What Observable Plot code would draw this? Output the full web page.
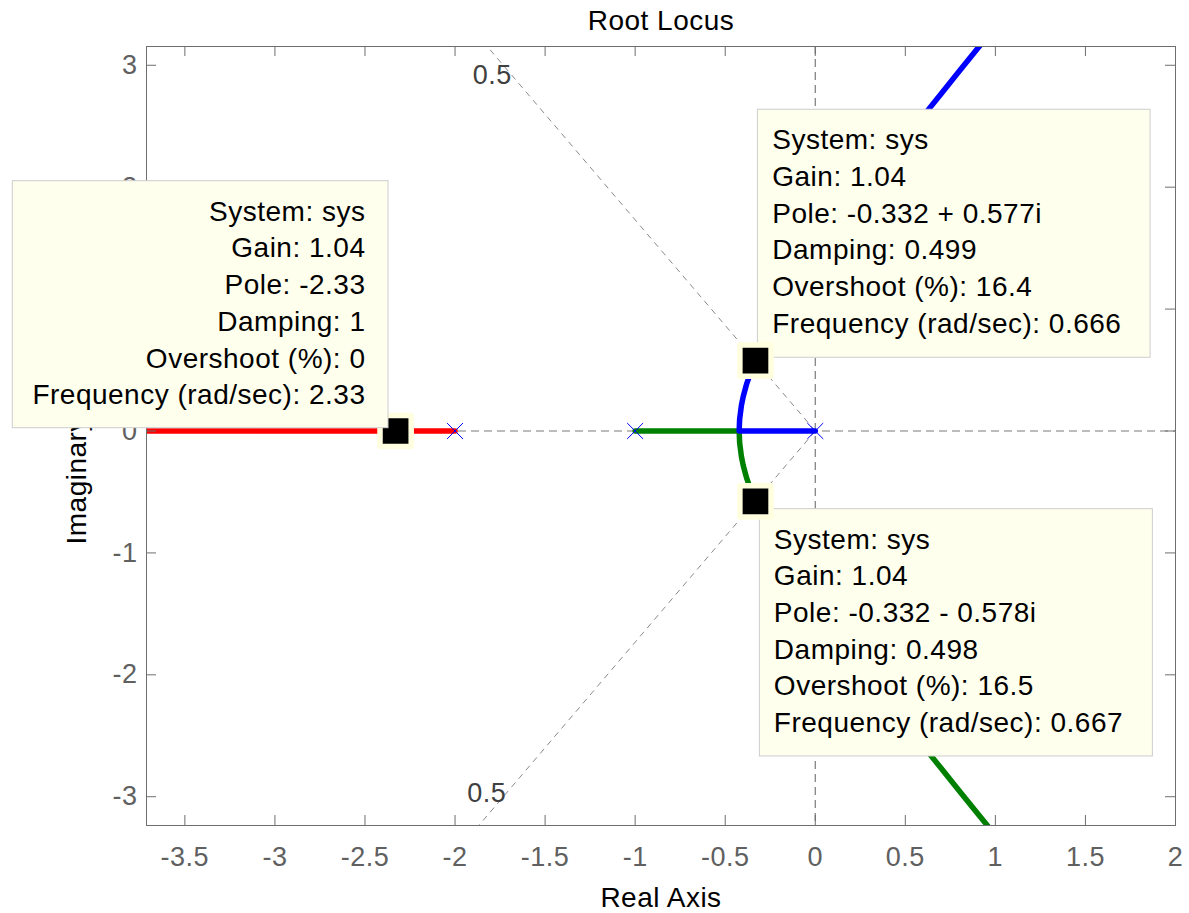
<!DOCTYPE html>
<html><head><meta charset="utf-8">
<script src="https://cdn.jsdelivr.net/npm/d3@7"></script>
<script src="https://cdn.jsdelivr.net/npm/@observablehq/plot@0.6"></script>
<style>html,body{margin:0;padding:0;background:#fff;}</style>
</head><body>
<script>
// ---- data ----
const title = "Root Locus";
const xLabel = "Real Axis";
const yLabel = "Imaginary Axis";
const xTicks = [-3.5, -3, -2.5, -2, -1.5, -1, -0.5, 0, 0.5, 1, 1.5, 2];
const yTicks = [-3, -2, -1, 0, 1, 2, 3];
const poles = [-2, -1, 0];
const dampingValues = [0.5];

const redBranch = [[-2, 0], [-4, 0]];
const greenBranch = [
  [-1, 0], [-0.4226, 0], [-0.42, -0.096], [-0.41, -0.21], [-0.40, -0.283], [-0.38, -0.391],
  [-0.35, -0.517], [-0.332, -0.58], [-0.30, -0.686], [-0.25, -0.829], [-0.20, -0.959],
  [-0.10, -1.196], [0, -1.414], [0.10, -1.622], [0.20, -1.822], [0.30, -2.017], [0.40, -2.209],
  [0.50, -2.398], [0.60, -2.585], [0.70, -2.769], [0.80, -2.953], [0.90, -3.135], [1.00, -3.317]
];
const blueBranch = [
  [0, 0], [-0.4226, 0], [-0.42, 0.096], [-0.41, 0.21], [-0.40, 0.283], [-0.38, 0.391],
  [-0.35, 0.517], [-0.332, 0.58], [-0.30, 0.686], [-0.25, 0.829], [-0.20, 0.959],
  [-0.10, 1.196], [0, 1.414], [0.10, 1.622], [0.20, 1.822], [0.30, 2.017], [0.40, 2.209],
  [0.50, 2.398], [0.60, 2.585], [0.70, 2.769], [0.80, 2.953], [0.90, 3.135], [1.00, 3.317]
];

const tipPoints = [[-2.33, 0], [-0.332, 0.577], [-0.332, -0.578]];
const tipText1 = ["System: sys", "Gain: 1.04", "Pole: -2.33", "Damping: 1", "Overshoot (%): 0", "Frequency (rad/sec): 2.33"];
const tipText2 = ["System: sys", "Gain: 1.04", "Pole: -0.332 + 0.577i", "Damping: 0.499", "Overshoot (%): 16.4", "Frequency (rad/sec): 0.666"];
const tipText3 = ["System: sys", "Gain: 1.04", "Pole: -0.332 - 0.578i", "Damping: 0.498", "Overshoot (%): 16.5", "Frequency (rad/sec): 0.667"];

// ---- layout ----
const W = 1189, H = 913, mT = 46, mR = 14, mB = 88, mL = 146;
const xDomain = [-3.713, 2], yDomain = [-3.236, 3.154];
const kx = (W - mL - mR) / (xDomain[1] - xDomain[0]);
const ky = (H - mT - mB) / (yDomain[1] - yDomain[0]);
const plotW = W - mL - mR, plotH = H - mT - mB;

const tipLayout = [
  {bx: -382.8, by: -249.8, w: 375.7, h: 247, align: "end", pad: 23},
  {bx: 2.4, by: -250.9, w: 392.7, h: 248, align: "start", pad: 14.4},
  {bx: 4.4, by: 7.7, w: 393, h: 247.3, align: "start", pad: 14}
];
const tipTexts = [tipText1, tipText2, tipText3];
const boxes = tipPoints.map(([re, im], k) => {
  const L = tipLayout[k];
  return {x1: re + L.bx / kx, x2: re + (L.bx + L.w) / kx, y1: im - L.by / ky, y2: im - (L.by + L.h) / ky};
});
const tipRows = tipPoints.map(([re, im], k) => {
  const L = tipLayout[k];
  return tipTexts[k].map((t, i) => ({
    text: t,
    x: L.align === "end" ? re + (L.bx + L.w - L.pad) / kx : re + (L.bx + L.pad) / kx,
    y: im - (L.by + 39.5 + 36.7 * i) / ky
  }));
});

const R = 6;
const dampLines = dampingValues.flatMap(z => [1, -1].map(s => ({z, s, x2: -z * R, y2: s * Math.sqrt(1 - z * z) * R})));
const dampLabels = dampingValues.flatMap(z => [1, -1].map(s => {
  const yEdge = s > 0 ? yDomain[1] : yDomain[0];
  return {z, s, x: yEdge * s * (-z / Math.sqrt(1 - z * z)), y: yEdge};
}));

const halo = "#FFFFE0", boxFill = "#FFFFEE", boxStroke = "#CDCDCD";
const axisGray = "#6e6e6e", tickText = "#606060", gridGray = "#7a7a7a";

const boxMarks = (k) => [
  Plot.rect([boxes[k]], {x1: "x1", x2: "x2", y1: "y1", y2: "y2", fill: boxFill, stroke: boxStroke, strokeWidth: 1}),
  Plot.text(tipRows[k], {x: "x", y: "y", text: "text", textAnchor: tipLayout[k].align, lineAnchor: "bottom", fontSize: 28, fill: "#000"})
];
const tipMarker = (k) => Plot.dot([tipPoints[k]], {x: d => d[0], y: d => d[1], symbol: "square", r: 17.6, fill: "#000", stroke: halo, strokeWidth: 5.5, strokeLinejoin: "round"});

const chart = Plot.plot({
  width: W, height: H, marginTop: mT, marginRight: mR, marginBottom: mB, marginLeft: mL,
  x: {domain: xDomain, axis: null},
  y: {domain: yDomain, axis: null},
  style: {fontFamily: "'Liberation Sans', Arial, sans-serif", letterSpacing: "0.5px", background: "#fff", overflow: "visible"},
  marks: [
    Plot.ruleY([0], {stroke: gridGray, strokeWidth: 1.2, strokeDasharray: "8,5"}),
    Plot.ruleX([0], {stroke: gridGray, strokeWidth: 1.2, strokeDasharray: "8,5"}),
    Plot.link(dampLines, {x1: () => 0, y1: () => 0, x2: "x2", y2: "y2", stroke: "#8a8a8a", strokeWidth: 1, strokeDasharray: "6,5", clip: true}),
    Plot.text(dampLabels.filter(d => d.s > 0), {x: "x", y: "y", text: d => String(d.z), dx: 5, dy: 29, fontSize: 27, fill: "#404040"}),
    Plot.text(dampLabels.filter(d => d.s < 0), {x: "x", y: "y", text: d => String(d.z), dx: 8, dy: -32, fontSize: 27, fill: "#404040"}),
    Plot.line(redBranch, {x: d => d[0], y: d => d[1], stroke: "#ff0000", strokeWidth: 5.5, clip: true}),
    Plot.line(greenBranch, {x: d => d[0], y: d => d[1], stroke: "#008000", strokeWidth: 5.5, strokeLinejoin: "round", clip: true}),
    Plot.line(blueBranch, {x: d => d[0], y: d => d[1], stroke: "#0000ff", strokeWidth: 5.5, strokeLinejoin: "round", clip: true}),
    Plot.dot(poles, {x: d => d, y: () => 0, symbol: "times", r: 7.3, stroke: "#0000ff", strokeWidth: 1}),
    Plot.frame({stroke: axisGray, strokeWidth: 1}),
    Plot.tickX(xTicks, {x: d => d, insetTop: plotH - 10, stroke: axisGray}),
    Plot.tickX(xTicks, {x: d => d, insetBottom: plotH - 10, stroke: axisGray}),
    Plot.tickY(yTicks, {y: d => d, insetRight: plotW - 10, stroke: axisGray}),
    Plot.tickY(yTicks, {y: d => d, insetLeft: plotW - 10, stroke: axisGray}),
    Plot.text(xTicks, {x: d => d, text: d => String(d), frameAnchor: "bottom", dy: 40, lineAnchor: "bottom", fontSize: 27, fill: tickText}),
    Plot.text(yTicks, {y: d => d, text: d => String(d), frameAnchor: "left", dx: -9, textAnchor: "end", lineAnchor: "middle", fontSize: 27, fill: tickText}),
    Plot.text([title], {text: d => d, frameAnchor: "top", dy: -17, textAnchor: "middle", lineAnchor: "bottom", fontSize: 28, fill: "#000"}),
    Plot.text([xLabel], {text: d => d, frameAnchor: "bottom", dy: 81, textAnchor: "middle", lineAnchor: "bottom", fontSize: 28, fill: "#000"}),
    Plot.text([yLabel], {text: d => d, frameAnchor: "left", dx: -61, dy: 14, rotate: -90, textAnchor: "middle", lineAnchor: "bottom", fontSize: 28, fill: "#000"}),
    ...boxMarks(1),
    ...boxMarks(2),
    tipMarker(0),
    tipMarker(1),
    tipMarker(2),
    ...boxMarks(0)
  ]
});
document.body.appendChild(chart);
</script>
</body></html>
